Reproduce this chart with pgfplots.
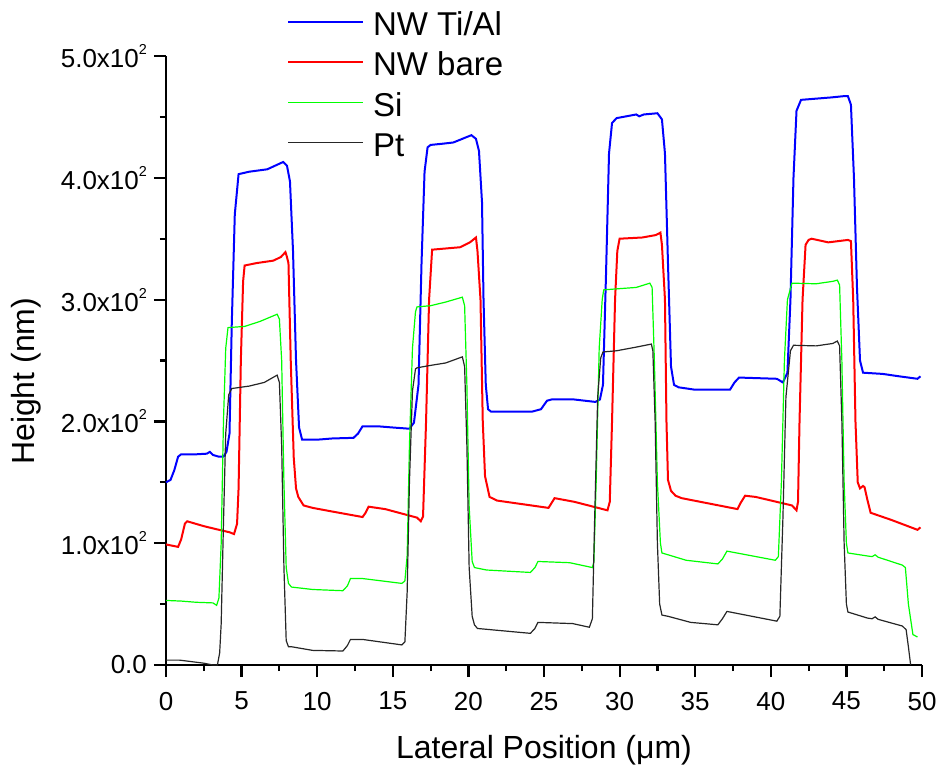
\documentclass[border=0pt]{standalone}
\usepackage{fontspec}
\setmainfont{Liberation Sans}
\usepackage{pgfplots}
\pgfplotsset{compat=1.18}
\newcommand\sq{\raisebox{6.5pt}{\fontsize{7.2}{8}\selectfont 2}}
\begin{document}
\begin{tikzpicture}
\begin{axis}[
  at={(0,0)}, anchor=south west,
  scale only axis, width=378pt, height=304.5pt,
  xmin=0, xmax=50, ymin=0, ymax=500,
  clip=false,
  axis x line*=bottom, axis y line*=left,
  axis line style={line width=1.1pt, black},
  tick style={line width=1.1pt, black},
  major tick style={line width=1.1pt, black},
  minor tick style={line width=1.1pt, black},
  xtick align=outside, ytick align=outside,
  major tick length=6pt, minor tick length=3pt,
  xtick={0,5,...,50}, minor x tick num=1,
  ytick={0,100,200,300,400,500}, minor y tick num=1,
  yticklabels={0.0, 1.0x10\sq, 2.0x10\sq, 3.0x10\sq, 4.0x10\sq, 5.0x10\sq},
  /pgf/number format/assume math mode=true,
  tick label style={font=\fontsize{13}{15}\selectfont},
  xticklabel style={yshift=-4pt},
  xlabel={Lateral Position (μm)},
  ylabel={Height (nm)},
  label style={font=\fontsize{16}{19}\selectfont},
  xlabel style={at={(axis description cs:0.5,-0.154)}, anchor=base},
  ylabel style={at={(axis description cs:-0.1733,0.466)}, anchor=base, rotate=0},
  legend style={at={(axis description cs:0.1517,1.0804)}, anchor=north west, draw=none, fill=none,
    font=\fontsize{16.5}{19}\selectfont, row sep=5pt, column sep=4.5pt,
    nodes={inner sep=0pt, text height=12pt, text depth=3.2pt}},
  legend cell align=left,
  legend image code/.code={\draw[#1] (0pt,2.5pt) -- (37.5pt,2.5pt);},
]
\addplot[blue, line width=1pt] coordinates {
(0,150) (0.3,152) (0.55,160) (0.8,171) (1.0,173) (2.0,173) (2.7,173.5) (2.9,175) (3.1,172.5) (3.5,171) (3.8,171) (4.0,175) (4.2,190) (4.35,280) (4.55,370) (4.8,403) (5.5,405) (6.7,407) (7.75,413) (8.0,410) (8.2,397) (8.4,340) (8.6,250) (8.8,195) (9.0,185) (10,185) (11,186) (12.4,186.5) (12.7,190) (13.0,196) (14,196) (15,195) (16.1,194) (16.4,199) (16.7,230) (16.9,330) (17.1,405) (17.3,425) (17.5,427) (18.3,428) (19.0,429) (19.6,432) (20.2,435) (20.5,432) (20.7,422) (20.9,380) (21.0,300) (21.15,230) (21.3,210) (21.5,208) (23,208) (24.2,208) (24.8,210) (25.2,217) (25.5,218) (27,218) (28.4,216) (28.7,218) (28.9,230) (29.1,320) (29.3,420) (29.5,445) (29.8,449) (31.1,452) (31.3,450.5) (31.6,452) (32.5,453) (32.8,448) (33.0,420) (33.2,330) (33.4,245) (33.6,230) (33.9,228) (35,226) (37.3,226) (37.6,232) (37.9,236) (40.4,235) (40.8,232) (41.1,240) (41.3,300) (41.5,400) (41.7,455) (42.0,464) (43,465) (44,466) (44.8,467) (45.1,467) (45.3,460) (45.5,400) (45.7,310) (45.9,250) (46.1,240) (47.4,239) (48.5,237) (49.7,235) (49.9,237)
};
\addlegendentry{NW Ti/Al}
\addplot[red, line width=1pt] coordinates {
(0,99) (0.4,98) (0.8,97) (1.0,103) (1.25,116) (1.4,118) (2.5,114) (3.5,111) (4.2,109) (4.5,107.5) (4.7,116) (4.8,145) (4.95,250) (5.1,315) (5.2,328) (6,330) (7.1,332) (7.6,335) (7.9,339) (8.0,335) (8.1,330) (8.25,250) (8.45,170) (8.6,145) (8.75,138) (9.1,131) (9.7,129) (11,126) (13.0,121.5) (13.2,125) (13.4,130) (14.5,128) (16.6,121) (16.85,118) (17.0,122) (17.2,200) (17.4,300) (17.6,341) (19.45,343) (20.1,347) (20.5,351) (20.6,340) (20.8,300) (20.95,200) (21.1,155) (21.4,138) (21.9,135) (25.3,129) (25.5,133) (25.7,137) (27,134) (29.2,127) (29.35,134) (29.5,200) (29.7,300) (29.85,340) (30.0,350) (31.5,351) (32.4,353) (32.7,355) (32.8,345) (33.0,300) (33.1,200) (33.2,152) (33.4,143) (33.7,139) (34.1,137) (37.8,128) (38.0,133) (38.3,139) (39,138) (41.4,131) (41.7,127) (41.8,134) (41.9,200) (42.1,300) (42.3,345) (42.5,349) (42.7,350) (43.8,347) (45.1,349) (45.3,348) (45.45,300) (45.6,200) (45.75,150) (45.9,145) (46.1,147) (46.2,146) (46.4,135) (46.6,125) (48,119) (49.7,111) (49.9,113)
};
\addlegendentry{NW bare}
\addplot[green, line width=0.6pt] coordinates {
(0,53) (1,52.5) (2,51.5) (3.1,51) (3.35,49) (3.5,55) (3.65,100) (3.8,200) (3.95,260) (4.1,277) (5.2,278) (6.2,282) (7.35,288) (7.5,284) (7.65,250) (7.8,150) (7.95,80) (8.1,67) (8.3,64) (9.7,62) (11.7,61) (12.0,65) (12.2,71) (13,71) (15.6,67) (15.8,69) (15.95,90) (16.1,180) (16.3,260) (16.5,290) (16.6,294) (17.5,295) (18.5,298) (19.6,302) (19.75,295) (19.9,230) (20.05,130) (20.25,85) (20.4,80) (21.2,78) (24.1,76) (24.4,80) (24.6,85) (26.7,84) (28.2,80) (28.3,85) (28.45,150) (28.65,260) (28.85,300) (28.95,308) (30.0,309) (31.1,310) (32.0,313.5) (32.15,310) (32.3,250) (32.5,150) (32.7,100) (32.8,92) (34.4,86) (36.5,83) (36.8,87) (37.1,93.5) (40.3,86) (40.5,89) (40.7,150) (40.9,250) (41.1,300) (41.4,313.5) (43.0,313) (44.1,315) (44.4,316) (44.55,312) (44.7,250) (44.85,150) (45.0,100) (45.1,92) (46.4,89.5) (46.7,89) (46.9,90.5) (47.1,88.5) (48.7,82) (48.9,80) (49.1,50) (49.4,25) (49.7,23)
};
\addlegendentry{Si}
\addplot[black!85, line width=0.6pt] coordinates {
(0,4) (0.9,4) (2.5,1.5) (3.1,0) (3.4,0) (3.55,10) (3.65,34) (3.8,116) (3.95,190) (4.15,222) (4.35,227) (5.5,229) (6.5,232) (7.35,238) (7.5,232) (7.65,180) (7.8,80) (7.95,20) (8.1,15) (8.3,15) (9.7,12) (11.7,11.5) (12.0,16) (12.2,21) (13,21) (15.6,16.5) (15.8,19) (15.95,60) (16.1,150) (16.3,225) (16.5,243) (16.6,244) (17.5,246) (18.5,248) (19.6,253) (19.75,245) (19.9,180) (20.05,80) (20.25,40) (20.4,33) (20.6,30) (24.1,26) (24.4,30) (24.6,35) (26.9,34) (28.0,31) (28.2,38) (28.35,120) (28.55,220) (28.75,252) (28.9,257) (29.8,258) (31.1,261) (32.1,263.5) (32.2,258) (32.35,200) (32.5,100) (32.65,50) (32.8,41) (33.2,40) (34.7,35) (36.5,33) (36.8,38) (37.1,44) (40.4,36) (40.6,40) (40.8,120) (41.0,220) (41.3,258) (41.5,262.5) (43.0,262) (44.1,264) (44.4,266) (44.55,262) (44.7,200) (44.85,100) (45.0,50) (45.1,43.5) (46.4,38.5) (46.7,38) (46.9,39.5) (47.1,37.5) (48.7,32) (48.95,29) (49.1,15) (49.25,0)
};
\addlegendentry{Pt}
\end{axis}
\pgfresetboundingbox
\path[use as bounding box] (-83pt,-54pt) rectangle (388pt,332.5pt);
\end{tikzpicture}
\end{document}
